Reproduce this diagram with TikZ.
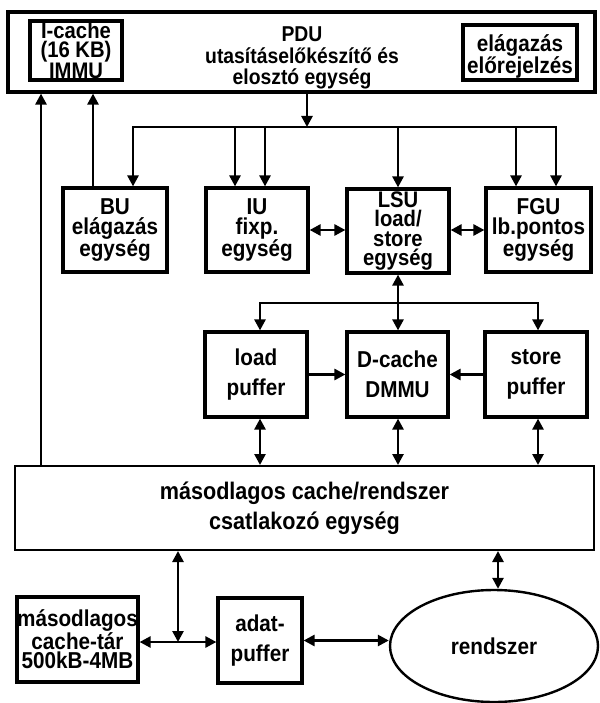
\documentclass[tikz,border=0pt]{standalone}
\usepackage{fontspec}
\setmainfont{Liberation Sans}[FakeStretch=0.9]
\usetikzlibrary{arrows.meta,shapes.geometric}
\begin{document}
\begin{tikzpicture}[x=1pt,y=-1pt,
  lbl/.style={font=\bfseries\fontsize{23}{20}\selectfont, align=center, inner sep=0pt},
  wide/.style={font=\bfseries\fontsize{23}{30}\selectfont},
  unit/.style={draw, line width=3.2pt, lbl},
  frame/.style={draw, line width=2pt, lbl},
  link/.style={line width=2.6pt, -{Triangle[length=11pt,width=11pt]}},
  dlink/.style={line width=2.6pt, {Triangle[length=11pt,width=11pt]}-{Triangle[length=11pt,width=11pt]}}]
\useasboundingbox (0,0) rectangle (599,703);

% instruction fetch / dispatch unit
\node[unit, minimum width=587pt, minimum height=80pt] (pdu) at (301.5,52) {};
\node[unit, minimum width=92pt, minimum height=59pt, font=\bfseries\fontsize{22.5}{19.5}\selectfont] (icache) at (76,50.5) {I-cache\\(16 KB)\\IMMU};
\node[unit, minimum width=114pt, minimum height=55pt] (elag) at (520,52.5) {};
\node[lbl] (elagtxt) at (520,56.5) {elágazás\\előrejelzés};
\node[lbl, font=\bfseries\fontsize{21.5}{21.5}\selectfont] (pdutxt) at (302,58) {PDU\\utasításelőkészítő és\\elosztó egység};

% execution units
\node[unit, minimum width=104pt, minimum height=84pt] (bu) at (115,230) {BU\\elágazás\\egység};
\node[unit, minimum width=102pt, minimum height=84pt] (iu) at (257,230) {IU\\fixp.\\egység};
\node[unit, minimum width=102pt, minimum height=84pt, font=\bfseries\fontsize{22.5}{19.5}\selectfont] (lsu) at (398,231) {LSU\\load/\\store\\egység};
\node[unit, minimum width=105pt, minimum height=84pt] (fgu) at (538.5,230) {FGU\\lb.pontos\\egység};

% data side
\node[unit, wide, minimum width=102pt, minimum height=85pt] (load) at (256,374.5) {load\\puffer};
\node[unit, wide, minimum width=101pt, minimum height=85pt] (dcache) at (397.5,374.5) {D-cache\\DMMU};
\node[unit, wide, minimum width=102pt, minimum height=85pt] (store) at (536,374.5) {store\\puffer};

% secondary cache / system interface
\node[frame, minimum width=579pt, minimum height=84pt, font=\bfseries\fontsize{24}{30}\selectfont] (big) at (304.5,508) {másodlagos cache/rendszer\\csatlakozó egység};
\node[unit, minimum width=121pt, minimum height=85pt, font=\bfseries\fontsize{23}{19.5}\selectfont] (masod) at (77.5,639.5) {másodlagos\\cache-tár\\500kB-4MB};
\node[unit, wide, minimum width=84pt, minimum height=85pt] (adat) at (260,640.5) {adat-\\puffer};
\node[ellipse, draw, line width=2.4pt, lbl, minimum width=208pt, minimum height=112pt] (rendszer) at (494,646) {rendszer};

% bus junctions
\coordinate (busM) at (307,127);
\coordinate (busL) at (133,127);
\coordinate (busR) at (556,127);
\coordinate (lbL) at (260,303);
\coordinate (lbR) at (538,303);
\coordinate (jn) at (178,642);

% feedback to the fetch unit
\draw[link] ([xshift=27pt]big.north west) -- ([xshift=27pt]big.north west |- pdu.south);
\draw[link] ([xshift=-22pt]bu.north) -- ([xshift=-22pt]bu.north |- pdu.south);

% dispatch bus
\draw[link] (busM |- pdu.south) -- (busM);
\draw[link] (busM) -- (busL) -- (busL |- bu.north);
\draw[link] (busM) -- (busR) -- (busR |- fgu.north);
\draw[link] ([xshift=-22pt]iu.north |- busL) -- ([xshift=-22pt]iu.north);
\draw[link] ([xshift=8pt]iu.north |- busL) -- ([xshift=8pt]iu.north);
\draw[link] (lsu.north |- busL) -- (lsu.north);
\draw[link] ([xshift=-22.5pt]fgu.north |- busL) -- ([xshift=-22.5pt]fgu.north);

% operand exchange
\draw[dlink] (iu.east) -- (iu.east -| lsu.west);
\draw[dlink] (lsu.east |- iu.east) -- (fgu.west);

% load/store path
\draw[dlink] (lsu.south) -- (lsu.south |- dcache.north);
\draw[link] (lsu.south |- lbL) -- (lbL) -- (lbL |- load.north);
\draw[link] (lsu.south |- lbL) -- (lbR) -- (lbR |- store.north);
\draw[link] (load.east) -- (dcache.west);
\draw[link] (store.west) -- (dcache.east);

% to the secondary interface
\draw[dlink] (lbL |- load.south) -- (lbL |- big.north);
\draw[dlink] (lsu.south |- dcache.south) -- (lsu.south |- big.north);
\draw[dlink] (lbR |- store.south) -- (lbR |- big.north);

% lower level
\draw[dlink] (jn |- big.south) -- (jn);
\draw[dlink] (masod.east |- jn) -- (adat.west |- jn);
\draw[dlink] (adat.east) -- (adat.east -| rendszer.west);
\draw[dlink] ([xshift=4pt]rendszer.north |- big.south) -- ([xshift=4pt]rendszer.north);
\end{tikzpicture}
\end{document}
